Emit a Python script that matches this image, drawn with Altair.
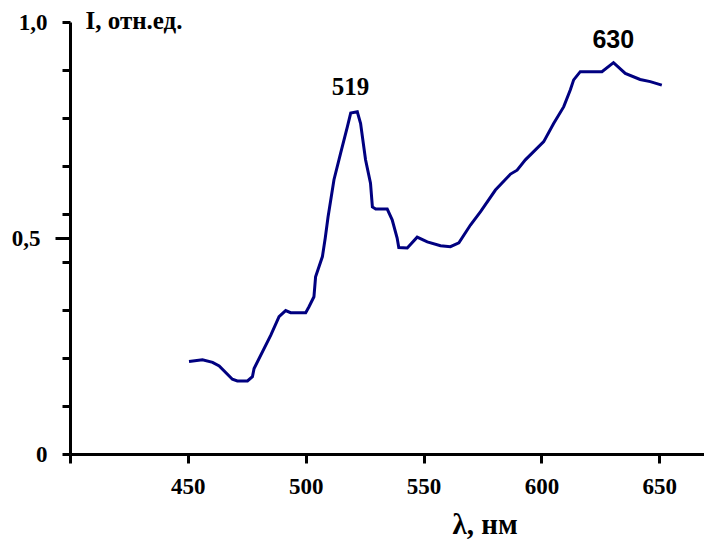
import altair as alt
import pandas as pd

# spectrum
wavelength = [450.5, 456.2, 460.5, 463.3, 468.9, 471.0, 475.3, 477.4, 478.1, 485.2,
              488.7, 491.5, 493.6, 500.0, 501.4, 503.5, 504.2, 507.1, 508.3, 509.5,
              512.0, 514.8, 517.7, 519.1, 521.9, 523.3, 525.4, 527.5, 528.3, 529.7,
              534.6, 536.7, 538.8, 539.5, 543.1, 547.3, 551.6, 557.2, 561.4, 565.0,
              569.9, 574.2, 580.5, 586.9, 589.7, 593.2, 601.0, 605.2, 609.5, 612.3,
              613.7, 616.5, 625.7, 630.6, 635.6, 641.9, 646.2, 651.1]
intensity = [0.214, 0.218, 0.212, 0.204, 0.173, 0.169, 0.169, 0.179, 0.198, 0.275,
             0.318, 0.332, 0.327, 0.327, 0.341, 0.364, 0.410, 0.457, 0.500, 0.549,
             0.635, 0.696, 0.758, 0.789, 0.792, 0.765, 0.681, 0.627, 0.572, 0.567,
             0.567, 0.542, 0.500, 0.478, 0.477, 0.502, 0.491, 0.482, 0.480, 0.489,
             0.530, 0.561, 0.611, 0.648, 0.657, 0.681, 0.723, 0.765, 0.804, 0.843,
             0.866, 0.885, 0.885, 0.906, 0.881, 0.867, 0.862, 0.854]

# peak annotations
peak_labels = ["519", "630"]
peak_x = [519, 630.5]
peak_y = [0.831, 0.940]
peak_font = ["Liberation Serif", "Liberation Sans"]

x_ticks = [400, 450, 500, 550, 600, 650]
y_ticks = [k / 9 for k in range(10)] + [0.5]

df = pd.DataFrame({"wl": wavelength, "I": intensity})
peaks = pd.DataFrame({"label": peak_labels, "wl": peak_x, "I": peak_y, "font": peak_font})

xscale = alt.Scale(domain=[400, 669], nice=False, zero=False)
yscale = alt.Scale(domain=[0, 1], nice=False)

line = alt.Chart(df).mark_line(color="#000080", strokeWidth=3).encode(
    x=alt.X("wl:Q", scale=xscale,
            axis=alt.Axis(values=x_ticks, labelExpr="datum.value == 400 ? '' : datum.label",
                          title="λ, нм", titleX=382, titleY=79, titleAlign="left",
                          titleBaseline="alphabetic", titleFontSize=29,
                          tickSize=9, labelPadding=12, labelFontSize=23)),
    y=alt.Y("I:Q", scale=yscale,
            axis=alt.Axis(values=y_ticks,
                          labelExpr="datum.value == 1 ? '1,0' : (datum.value == 0.5 ? '0,5' : (datum.value == 0 ? '0' : ''))",
                          tickSize={"condition": {"test": "datum.value == 0.5", "value": 15}, "value": 8},
                          labelPadding=15, labelFontSize=23,
                          title="I, отн.ед.", titleAngle=0, titleX=15, titleY=6,
                          titleAlign="left", titleBaseline="alphabetic", titleFontSize=25)),
)

texts = []
for f in peak_font:
    texts.append(
        alt.Chart(peaks[peaks["font"] == f]).mark_text(
            fontWeight="bold", fontSize=25, baseline="alphabetic", align="center",
            color="black", font=f).encode(
            x=alt.X("wl:Q", scale=xscale),
            y=alt.Y("I:Q", scale=yscale),
            text="label:N",
        )
    )

chart = alt.layer(line, *texts).properties(
    width=634, height=432,
    autosize=alt.AutoSizeParams(type="none"),
    padding={"left": 62, "top": 14, "right": 0, "bottom": 88},
).configure_view(stroke=None).configure_axis(
    grid=False, domainColor="black", tickColor="black", domainWidth=3, tickWidth=3,
    labelFont="Liberation Serif", labelFontWeight="bold", labelColor="black",
    titleFont="Liberation Serif", titleFontWeight="bold", titleColor="black",
)

chart.save("out.html", embed_options={"renderer": "svg", "actions": False})
